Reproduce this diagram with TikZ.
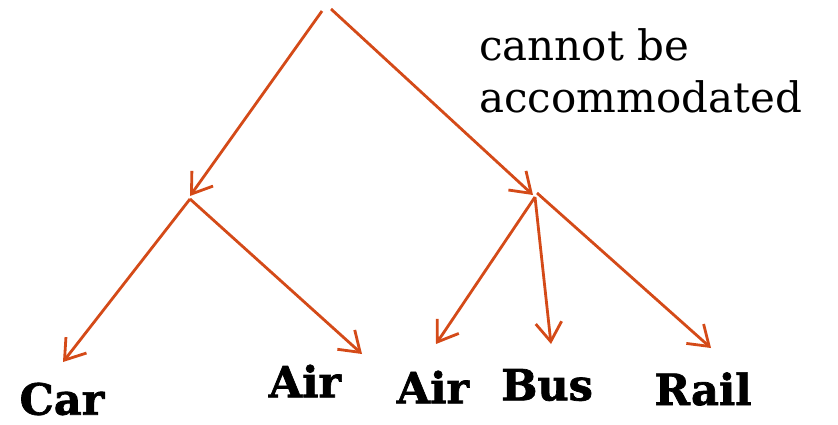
\documentclass[tikz,border=0pt]{standalone}
\usepackage{fontspec}
\setmainfont{DejaVu Serif}
\newfontfamily\slab{DejaVu Serif}[UprightFont={* Bold},FakeBold=1.6]
\usetikzlibrary{arrows.meta}
\definecolor{branch}{RGB}{212,74,24}
\begin{document}
\begin{tikzpicture}[x=1pt,y=-1pt,
  link/.style={draw=branch,line width=2.8pt,-{Straight Barb[length=19pt,width=26pt,line width=2.8pt]}},
  choice/.style={font=\fontsize{43}{45}\slab,inner sep=0pt},
  note/.style={font=\fontsize{42}{52}\selectfont,inner sep=0pt,align=left}]
\useasboundingbox (0,0) rectangle (838,424);
% split points of the tree
\coordinate (topL) at (322,11);
\coordinate (topR) at (331,9);
\coordinate (nestL) at (190,196);
\coordinate (forkL) at (190,199);
\coordinate (nestR) at (533,195);
\coordinate (forkR) at (535,197);
\coordinate (forkRR) at (537,193);
% arrow ends above the alternatives
\coordinate (carEnd) at (63,362);
\coordinate (airAEnd) at (362,354);
\coordinate (airBEnd) at (436,344);
\coordinate (busEnd) at (551,344);
\coordinate (railEnd) at (711,348);
% alternatives
\node[choice] (car) at (62,399) {Car};
\node[choice] (airA) at (305,381) {Air};
\node[choice] (airB) at (433,387) {Air};
\node[choice] (bus) at (547,385) {Bus};
\node[choice] (rail) at (703,389) {Rail};
\node[note,anchor=north west] (msg) at (479,28) {cannot be\\accommodated};
% branches
\draw[link] (topL) -- (nestL);
\draw[link] (topR) -- (nestR);
\draw[link] (forkL) -- (carEnd);
\draw[link] (forkL) -- (airAEnd);
\draw[link] (forkR) -- (airBEnd);
\draw[link] (forkR) -- (busEnd);
\draw[link] (forkRR) -- (railEnd);
\end{tikzpicture}
\end{document}
